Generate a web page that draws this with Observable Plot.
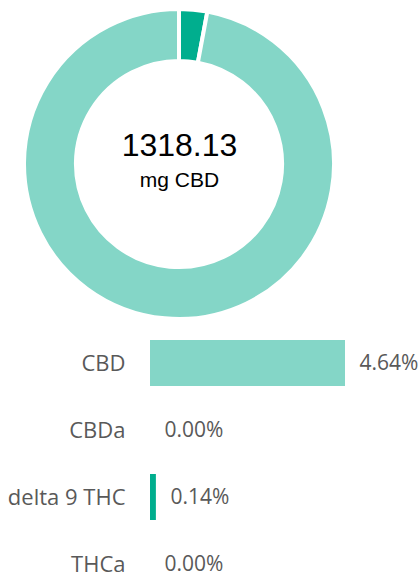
<!DOCTYPE html>
<html><head><meta charset="utf-8">
<script src="https://cdn.jsdelivr.net/npm/d3@7"></script>
<script src="https://cdn.jsdelivr.net/npm/@observablehq/plot@0.6"></script>
<style>
body{margin:0;background:#fff;}
#chart svg{display:block;}
</style></head><body><div id="chart"></div>
<script>
// Data
const compounds = ["CBD", "CBDa", "delta 9 THC", "THCa"];
const percents = [4.64, 0.00, 0.14, 0.00];
const barColors = ["#84d6c7", "#84d6c7", "#00ae8e", "#00ae8e"];
const donutOrder = ["delta 9 THC", "CBD"]; // clockwise from 12 o'clock
const totalLabel = ["1318.13"];
const unitLabel = ["mg CBD"];

const slices = donutOrder.map(name => {
  const i = compounds.indexOf(name);
  return {name, value: percents[i], color: barColors[i]};
});
const rows = compounds.map((c, i) => ({compound: c, value: percents[i], color: barColors[i]}));

const donutMark = (index, scales, values, dims) => {
  let cx, cy, r;
  if (scales && scales.x && scales.y) {
    cx = scales.x(0); cy = scales.y(0); r = Math.abs(scales.x(1) - scales.x(0));
  } else {
    const w = dims.width - dims.marginLeft - dims.marginRight;
    cx = dims.marginLeft + w / 2; cy = dims.marginTop + (dims.height - dims.marginTop - dims.marginBottom) / 2; r = w / 2;
  }
  const g = d3.create("svg:g").attr("transform", `translate(${cx},${cy})`);
  const arcs = d3.pie().sort(null).value(d => d.value)(slices);
  const arc = d3.arc().innerRadius(r * 0.665).outerRadius(r);
  g.selectAll("path").data(arcs).join("path")
    .attr("d", arc)
    .attr("fill", d => d.data.color)
    .attr("stroke", "white")
    .attr("stroke-width", 4);
  return g.node();
};

const donut = Plot.plot({
  width: 418, height: 326,
  marginLeft: 24, marginRight: 84, marginTop: 9, marginBottom: 7,
  x: {domain: [-1, 1], axis: null},
  y: {domain: [-1, 1], axis: null},
  marks: [
    donutMark,
    Plot.text(totalLabel, {text: d => d, frameAnchor: "middle", lineAnchor: "bottom", dy: -9,
      fontSize: 32, fill: "#000", fontFamily: "Liberation Sans, Arial, sans-serif"}),
    Plot.text(unitLabel, {text: d => d, frameAnchor: "middle", lineAnchor: "bottom", dy: 22,
      fontSize: 21, fill: "#000", fontFamily: "Liberation Sans, Arial, sans-serif", letterSpacing: "1.2px"})
  ]
});

const bars = Plot.plot({
  width: 418, height: 251,
  marginLeft: 150, marginRight: 73, marginTop: 0, marginBottom: 0,
  style: {fontFamily: "'Open Sans', sans-serif", color: "#595959"},
  x: {domain: [0, d3.max(percents)], axis: null},
  y: {domain: compounds, range: [2.2, 272.6], paddingInner: 0.32, paddingOuter: 0.16, axis: null},
  marks: [
    Plot.barX(rows, {x: "value", y: "compound", fill: "color"}),
    Plot.axisY({tickSize: 0, tickPadding: 25, fontSize: 22, label: null, fill: "#595959"}),
    Plot.text(rows, {x: "value", y: "compound", text: d => d.value.toFixed(2) + "%",
      textAnchor: "start", dx: 14, fontSize: 21, fill: "#595959"})
  ]
});

document.getElementById("chart").append(donut, bars);
</script>
</body></html>
